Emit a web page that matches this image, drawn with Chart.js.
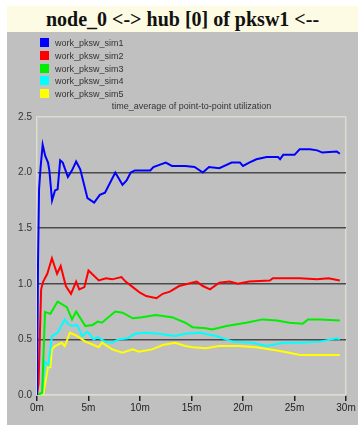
<!DOCTYPE html>
<html>
<head>
<meta charset="utf-8">
<script src="https://cdn.jsdelivr.net/npm/chart.js@4/dist/chart.umd.min.js"></script>
<style>
  body { margin: 0; background: #fff; width: 358px; height: 425px; overflow: hidden; position: relative; font-family: "Liberation Sans", Arial, sans-serif; }
  #title { position: absolute; left: 7px; top: 6px; width: 351px; height: 26px; background: #fdfbe3;
           font: bold 20px "Liberation Serif", "Times New Roman", serif; text-align: center; line-height: 27px; color: #111; }
  #panel { position: absolute; left: 7px; top: 32px; width: 351px; height: 393px; background: #c0c0c0; }
  #legend { position: absolute; left: 33px; top: 5px; font-size: 9px; color: #333; }
  #legend div { height: 12.8px; line-height: 12px; white-space: nowrap; }
  #legend span { display: inline-block; width: 9px; height: 9px; margin-right: 6px; vertical-align: -1px; }
  #sub { position: absolute; left: 30px; width: 309px; top: 69px; text-align: center; font-size: 9px; color: #333; }
  canvas { position: absolute; left: 0; top: 0; }
</style>
</head>
<body>
<div id="title">node_0 &lt;-&gt; hub [0] of pksw1 &lt;--</div>
<div id="panel">
  <canvas id="c" width="351" height="393"></canvas>
  <div id="legend"></div>
  <div id="sub">time_average of point-to-point utilization</div>
</div>
<script>
// series names and colours
const names = ['work_pksw_sim1', 'work_pksw_sim2', 'work_pksw_sim3', 'work_pksw_sim4', 'work_pksw_sim5'];
const colors = ['#0000ff', '#ff0000', '#00ee00', '#00ffff', '#ffff00'];

// time in minutes / value
const sim1T = [0, 0.1, 0.2, 0.35, 0.55, 0.8, 1.07, 1.2, 1.46, 1.75, 2.0, 2.25, 2.5, 3.0, 3.4, 3.8, 4.2, 4.9, 5.55, 6.1, 6.6, 7.6, 8.3, 8.7, 9.1, 9.5, 11.0, 11.3, 12.5, 13.1, 14.4, 15.3, 16.1, 16.7, 17.7, 18.9, 19.7, 20.0, 20.6, 21.3, 22.3, 23.4, 23.6, 23.9, 25.0, 25.5, 26.5, 27.2, 27.7, 29.1, 29.4];
const sim1V = [0, 1.2, 1.85, 2.05, 2.25, 2.15, 2.09, 2.02, 1.75, 1.84, 1.85, 2.11, 2.09, 1.96, 2.02, 2.1, 2.03, 1.77, 1.73, 1.8, 1.82, 2.0, 1.89, 1.93, 2.0, 2.02, 2.02, 2.05, 2.09, 2.06, 2.06, 2.05, 2.0, 2.05, 2.04, 2.09, 2.09, 2.06, 2.09, 2.12, 2.14, 2.14, 2.12, 2.16, 2.16, 2.21, 2.21, 2.2, 2.18, 2.19, 2.17];

const sim2T = [0, 0.15, 0.4, 0.6, 1.0, 1.45, 1.95, 2.3, 2.8, 3.3, 3.8, 4.1, 4.6, 5.0, 6.0, 6.7, 7.3, 8.2, 8.6, 9.3, 10.0, 10.6, 11.6, 12.2, 12.9, 13.8, 15.5, 16.1, 16.8, 17.7, 18.7, 19.5, 20.6, 22.6, 22.9, 25.5, 27.2, 28.3, 29.4];
const sim2V = [0, 0.1, 0.95, 1.02, 1.09, 1.23, 1.09, 1.16, 0.98, 0.91, 1.02, 0.95, 0.97, 1.12, 1.03, 1.05, 1.04, 1.06, 1.02, 0.97, 0.92, 0.89, 0.87, 0.91, 0.93, 0.98, 1.02, 0.98, 0.95, 1.01, 1.02, 1.0, 1.02, 1.03, 1.05, 1.05, 1.04, 1.05, 1.03];

const sim3T = [0, 0.5, 0.78, 1.3, 2.0, 2.9, 3.4, 3.8, 4.7, 5.4, 5.9, 6.3, 7.6, 8.3, 9.3, 10.2, 11.5, 13.1, 14.4, 15.1, 16.4, 17.0, 18.4, 20.3, 21.9, 23.3, 24.5, 25.8, 26.3, 27.5, 29.4];
const sim3V = [0, 0.02, 0.745, 0.73, 0.84, 0.79, 0.68, 0.75, 0.62, 0.63, 0.66, 0.65, 0.75, 0.74, 0.69, 0.7, 0.72, 0.7, 0.65, 0.61, 0.6, 0.59, 0.62, 0.65, 0.68, 0.67, 0.65, 0.64, 0.68, 0.68, 0.67];

const sim4T = [0, 0.5, 0.75, 1.1, 1.45, 2.0, 2.7, 3.0, 3.4, 3.9, 4.4, 4.9, 5.5, 5.9, 6.6, 7.3, 7.9, 8.8, 9.5, 10.5, 11.8, 13.4, 14.4, 15.8, 17.4, 19.0, 20.9, 22.3, 23.9, 25.5, 27.5, 29.1, 29.4];
const sim4V = [0, 0.02, 0.3, 0.27, 0.53, 0.56, 0.68, 0.64, 0.62, 0.63, 0.53, 0.57, 0.5, 0.52, 0.48, 0.47, 0.5, 0.51, 0.55, 0.56, 0.55, 0.53, 0.55, 0.56, 0.53, 0.48, 0.47, 0.44, 0.47, 0.47, 0.48, 0.51, 0.5];

const sim5T = [0, 0.6, 1.07, 1.3, 1.45, 1.75, 2.4, 2.7, 3.2, 3.9, 4.7, 5.5, 6.0, 6.3, 7.3, 8.3, 9.3, 9.9, 11.2, 12.2, 13.4, 14.4, 15.1, 16.4, 17.7, 19.6, 21.3, 23.3, 24.5, 25.5, 27.5, 29.4];
const sim5V = [0, 0, 0.25, 0.25, 0.41, 0.44, 0.47, 0.44, 0.56, 0.53, 0.48, 0.45, 0.43, 0.47, 0.41, 0.38, 0.41, 0.39, 0.41, 0.45, 0.47, 0.44, 0.43, 0.42, 0.44, 0.44, 0.43, 0.4, 0.38, 0.36, 0.36, 0.36];

const times = [sim1T, sim2T, sim3T, sim4T, sim5T];
const values = [sim1V, sim2V, sim3V, sim4V, sim5V];

// legend
const leg = document.getElementById('legend');
names.forEach((n, i) => {
    const d = document.createElement('div');
    d.innerHTML = '<span style="background:' + colors[i] + '"></span>' + n;
    leg.appendChild(d);
});

const light = '#dcdcd0';
const dark = '#4a4a4a';

new Chart(document.getElementById('c'), {
    type: 'line',
    data: {
        datasets: names.map((n, i) => ({
            label: n,
            data: times[i].map((t, k) => ({ x: t, y: values[i][k] })),
            borderColor: colors[i],
            borderWidth: 2,
            pointRadius: 0,
            tension: 0,
            fill: false
        }))
    },
    options: {
        animation: false,
        responsive: false,
        layout: { padding: { top: 85, right: 12, left: 0, bottom: 0 } },
        plugins: { legend: { display: false }, tooltip: { enabled: false } },
        scales: {
            x: {
                type: 'linear', min: 0, max: 30,
                afterFit: s => { s.height = 30; },
                ticks: { stepSize: 5, callback: v => v + 'm', color: '#222', font: { size: 10, family: 'Liberation Sans' }, padding: 1, maxRotation: 0 },
                grid: {
                    color: c => c.tick && c.tick.value === 30 ? light : 'rgba(0,0,0,0)',
                    tickColor: '#222', tickLength: 6, lineWidth: 1.5
                },
                border: { color: light, width: 1.5 }
            },
            y: {
                min: 0, max: 2.5,
                afterFit: s => { s.width = 30; },
                ticks: { stepSize: 0.5, callback: v => v.toFixed(1), color: '#333', font: { size: 10, family: 'Liberation Sans' }, padding: 5 },
                grid: {
                    color: c => (c.tick && (c.tick.value === 0 || c.tick.value === 2.5)) ? light : dark,
                    lineWidth: 1.5, drawTicks: false
                },
                border: { color: light, width: 1.5 }
            }
        }
    }
});
</script>
</body>
</html>
